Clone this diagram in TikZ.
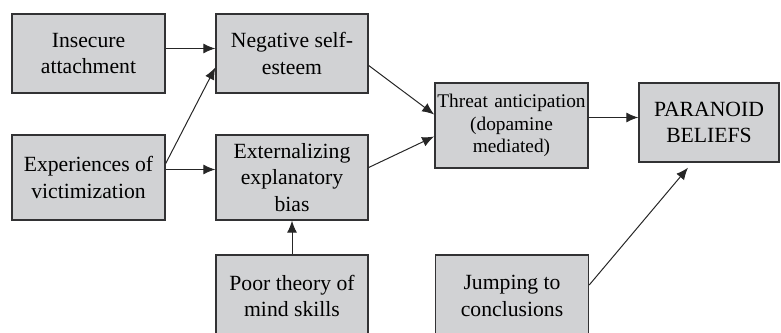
\documentclass[tikz,border=0pt]{standalone}
\usepackage{fontspec}
\setmainfont{Liberation Serif}
\usepackage{xcolor}
\usetikzlibrary{arrows.meta}
\usetikzlibrary{calc}
\definecolor{boxgray}{RGB}{209,210,212}
\definecolor{boxline}{RGB}{50,50,52}

\tikzset{
  factor/.style={draw=boxline, line width=1.2pt, fill=boxgray, align=center,
    inner sep=1pt, font=\fontsize{18.5}{22.5}\selectfont},
  link/.style={-{Latex[length=0.36cm,width=0.3cm]}, line width=0.85pt, color=black!85}
}

\begin{document}
\begin{tikzpicture}[x=0.03cm,y=-0.03cm]
\useasboundingbox (0,0) rectangle (781,332);
\clip (0,0) rectangle (781,332);

% left column
\node[factor, minimum width=153*0.03cm, minimum height=79*0.03cm] (ins) at (88.5,53.5) {Insecure\\attachment};
\node[factor, minimum width=153*0.03cm, minimum height=85*0.03cm] (exp) at (88.5,177.5) {Experiences of\\victimization};

% middle column
\node[factor, minimum width=152*0.03cm, minimum height=79*0.03cm] (neg) at (292,53.5) {Negative self-\\esteem};
\node[factor, minimum width=152*0.03cm, minimum height=85*0.03cm] (ext) at (292,177.5) {Externalizing\\explanatory\\bias};
\node[factor, minimum width=152*0.03cm, minimum height=82*0.03cm] (poor) at (292,296) {Poor theory of\\mind skills};

% right part
\node[factor, font=\fontsize{16.5}{19.5}\selectfont, text width=151*0.03cm, minimum height=85*0.03cm] (threat) at (511.5,125.5) {Threat anticipation\\(dopamine\\mediated)};
\node[factor, minimum width=153*0.03cm, minimum height=82*0.03cm] (jump) at (512,296) {Jumping to\\conclusions};
\node[factor, minimum width=140*0.03cm, minimum height=79*0.03cm] (para) at (709,122.5) {PARANOID\\BELIEFS};

% arrows
\draw[link] ($(ins.east)+(0,-5)$) -- ($(neg.west)+(0,-5)$);
\draw[link] ($(exp.east)+(0,-14)$) -- ($(neg.west)+(0,14)$);
\draw[link] ($(exp.east)+(0,-8)$) -- ($(ext.west)+(0,-8)$);
\draw[link] ($(neg.east)+(0,12)$) -- ($(threat.west)+(0,-11)$);
\draw[link] ($(ext.east)+(0,-10)$) -- ($(threat.west)+(0,11)$);
\draw[link] ($(threat.east)+(0,-8)$) -- ($(para.west)+(0,-5)$);
\draw[link] (poor.north) -- (ext.south);
\draw[link] ($(jump.east)+(0,-11)$) -- ($(para.south)+(-21,5)$);
\end{tikzpicture}
\end{document}
